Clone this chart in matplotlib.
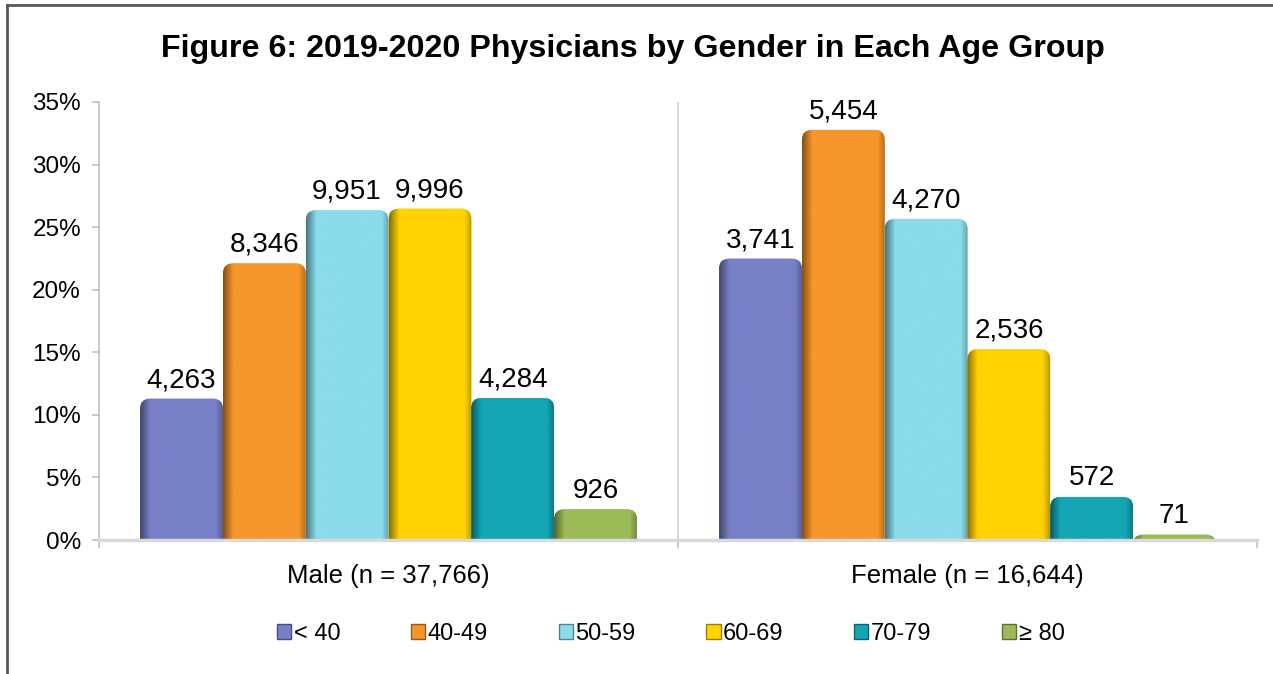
import numpy as np
from matplotlib import pyplot as plt
from matplotlib.patches import FancyBboxPatch, Patch
from matplotlib.lines import Line2D

plt.rcParams['font.family'] = ['Liberation Sans', 'DejaVu Sans']

# data
genders = ["Male", "Female"]
totals = [37766, 16644]
ageGroups = ["< 40", "40-49", "50-59", "60-69", "70-79", "\u2265 80"]
maleCounts = [4263, 8346, 9951, 9996, 4284, 926]
femaleCounts = [3741, 5454, 4270, 2536, 572, 71]
colors = ["#7880C8", "#F7962B", "#8ADCEC", "#FFD200", "#13A6B4", "#9BBB59"]
yTicks = [0, 5, 10, 15, 20, 25, 30, 35]

counts = np.array([maleCounts, femaleCounts])
shares = counts / np.array(totals)[:, None] * 100
catLabels = ["%s (n = %s)" % (g, format(t, ",")) for g, t in zip(genders, totals)]


def shade(color, w=60, h=60):
    # bevel: dark left edge, slightly dark right edge
    rgb = np.array(plt.matplotlib.colors.to_rgb(color))
    x = np.linspace(0, 1, w)
    f = np.ones(w)
    f = np.where(x < 0.12, 0.55 + 0.45 * (x / 0.12), f)
    f = np.where(x > 0.92, 1 - 0.25 * (x - 0.92) / 0.08, f)
    img = rgb[None, None, :] * f[None, :, None] * np.ones((h, 1, 1))
    return np.clip(img, 0, 1)


fig = plt.figure(figsize=(12.73, 6.74), dpi=100)
ax = fig.add_axes([0.0778, 0.1988, 0.9096, 0.6499])

nGroups = len(ageGroups)
barW = 0.143
xCenters = np.arange(len(genders))
xlim = (-0.5, 1.5)
ylim = (0, 35)
ax.set_xlim(*xlim)
ax.set_ylim(*ylim)

# pixel scales for rounded corners
axW = 0.9096 * 1273
axH = 0.6499 * 674
xPerPx = (xlim[1] - xlim[0]) / axW
yPerPx = (ylim[1] - ylim[0]) / axH
rx = 10 * xPerPx
ry = 10 * yPerPx

for j in range(nGroups):
    xs = xCenters + (j - (nGroups - 1) / 2) * barW
    bars = ax.bar(xs, shares[:, j], barW, color=colors[j], alpha=0)
    for rect, cnt in zip(bars, counts[:, j]):
        x0 = rect.get_x()
        w = rect.get_width()
        h = rect.get_height()
        patch = FancyBboxPatch((x0, -ry * 1.5), w, h + ry * 1.5,
                               boxstyle="round,pad=0,rounding_size=%f" % rx,
                               mutation_aspect=yPerPx / xPerPx,
                               facecolor=colors[j], edgecolor="none", zorder=2)
        ax.add_patch(patch)
        im = ax.imshow(shade(colors[j]), extent=(x0, x0 + w, -ry * 1.5, h),
                       aspect="auto", zorder=2.5, interpolation="bilinear")
        im.set_clip_path(patch)
        ax.annotate(format(cnt, ","), (x0 + w / 2, h), xytext=(0, 4),
                    textcoords="offset points", ha="center", va="bottom",
                    fontsize=20, color="black")

ax.set_xlim(*xlim)
ax.set_ylim(*ylim)

# category divider
ax.axvline(0.5, color="#D0D0D0", lw=1.2, zorder=1)

# axes styling
for s in ["top", "right"]:
    ax.spines[s].set_visible(False)
ax.spines["left"].set_color("#C0C0C0")
ax.spines["left"].set_linewidth(1.2)
ax.spines["bottom"].set_color("#D9D9D9")
ax.spines["bottom"].set_linewidth(2.5)
ax.spines["bottom"].set_zorder(3)

ax.set_yticks(yTicks)
ax.set_yticklabels(["%d%%" % t for t in yTicks], fontsize=17.5)
ax.tick_params(axis="y", length=5, color="#C0C0C0", width=1.2, pad=8)
ax.set_xticks(xCenters)
ax.set_xticklabels(catLabels, fontsize=18.5)
ax.tick_params(axis="x", length=0, pad=17)
ax.set_xticks([-0.5, 0.5, 1.5], minor=True)
ax.tick_params(axis="x", which="minor", length=6, color="#C0C0C0", width=1.2)

fig.text(0.497, 0.928, "Figure 6: 2019-2020 Physicians by Gender in Each Age Group",
         ha="center", va="center", fontsize=23.2, fontweight="bold")

handles = [Patch(facecolor=c, edgecolor=plt.matplotlib.colors.to_hex(
    np.array(plt.matplotlib.colors.to_rgb(c)) * 0.6)) for c in colors]
fig.legend(handles, ageGroups, loc="center", bbox_to_anchor=(0.527, 0.059),
           ncol=6, frameon=False, fontsize=17, handlelength=0.6,
           handleheight=0.6, handletextpad=0.1, columnspacing=3.0)

# outer frame (left and top only, picture is cropped)
fig.add_artist(Line2D([7 / 1273, 7 / 1273], [0, 1 - 5 / 674], transform=fig.transFigure,
                      color="#595959", lw=2))
fig.add_artist(Line2D([7 / 1273, 1], [1 - 5 / 674, 1 - 5 / 674], transform=fig.transFigure,
                      color="#595959", lw=2))

fig.savefig("out.png", dpi=100)
